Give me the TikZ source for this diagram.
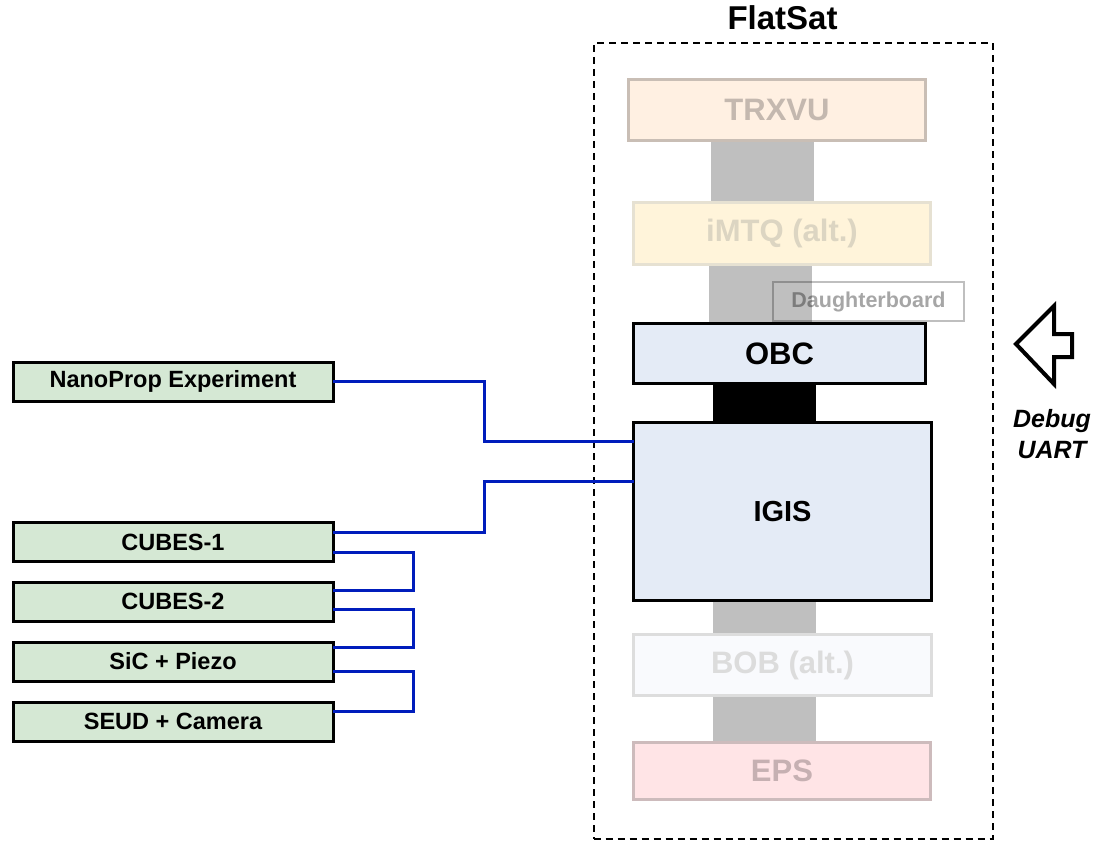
\documentclass[tikz,border=0pt]{standalone}
\usepackage{fontspec}
\setmainfont{Liberation Sans}
\usetikzlibrary{calc}
\definecolor{grn}{HTML}{D5E8D4}
\definecolor{lblue}{HTML}{E4EBF6}
\definecolor{trxfill}{HTML}{FFF0E2}
\definecolor{trxdraw}{HTML}{C9BEB5}
\definecolor{trxtext}{HTML}{C4B8AF}
\definecolor{imtqfill}{HTML}{FFF4DA}
\definecolor{imtqdraw}{HTML}{E6E1D2}
\definecolor{imtqtext}{HTML}{DCD5C2}
\definecolor{bobfill}{HTML}{F9FAFD}
\definecolor{bobdraw}{HTML}{DDDDDD}
\definecolor{bobtext}{HTML}{DCDCDC}
\definecolor{epsfill}{HTML}{FFE4E6}
\definecolor{epsdraw}{HTML}{CDBBBC}
\definecolor{epstext}{HTML}{C6B0B2}
\definecolor{barg}{HTML}{BFBFBF}
\definecolor{wire}{HTML}{001DBC}
\begin{document}
\begin{tikzpicture}[x=1pt,y=-1pt,
  box/.style={draw, line width=3pt, inner sep=0pt, outer sep=0pt},
  greenbox/.style={box, fill=grn, minimum width=320pt, minimum height=39pt,
    font=\bfseries\fontsize{23.5}{28}\selectfont},
  stackbox/.style={box, minimum width=297pt, minimum height=61pt,
    font=\bfseries\fontsize{31}{36}\selectfont},
  mainbox/.style={stackbox, fill=lblue},
  bar/.style={fill=barg},
  wirestyle/.style={draw=wire, line width=3pt},
]
\useasboundingbox (0,0) rectangle (1099,842);

% frame and title
\node[draw, line width=2pt, dash pattern=on 7pt off 5pt, minimum width=399pt,
  minimum height=796pt, inner sep=0pt] (frame) at (793,441) {};
\node[anchor=base, font=\bfseries\fontsize{33}{38}\selectfont, inner sep=0pt] (title) at (782.5,30) {FlatSat};

% stack connectors
\fill[bar] (711,142) rectangle (814,202);
\fill[bar] (709,262) rectangle (812,322);
\fill[black] (713,385) rectangle (816,421);
\fill[bar] (713,602) rectangle (816,633);
\fill[bar] (713,697) rectangle (816,741);

% stack boards
\node[stackbox, fill=trxfill, draw=trxdraw, text=trxtext] (trx) at (777,110) {TRXVU};
\node[stackbox, fill=imtqfill, draw=imtqdraw, text=imtqtext, minimum height=62pt] (imtq) at (782,233.5) {iMTQ (alt.)};
\node[draw=black, draw opacity=0.25, line width=2pt, minimum width=191pt, minimum height=39pt,
  inner sep=0pt, text=black, text opacity=0.35, font=\bfseries\fontsize{21.5}{25}\selectfont] (daughter) at (868.5,301.5) {Daughterboard};
\node[mainbox, minimum width=292pt, minimum height=60pt] (obc) at (779.5,353.5) {OBC};
\node[mainbox, minimum width=298pt, minimum height=178pt, font=\bfseries\fontsize{29}{34}\selectfont] (igis) at (782.5,511.5) {IGIS};
\node[stackbox, fill=bobfill, draw=bobdraw, text=bobtext, minimum width=298pt] (bob) at (782.5,665) {BOB (alt.)};
\node[stackbox, fill=epsfill, draw=epsdraw, text=epstext, minimum height=57pt] (eps) at (782,771) {EPS};

% payloads
\node[greenbox] (nano) at (173,381.5) {NanoProp Experiment};
\node[greenbox] (cubes1) at (173,542) {CUBES-1};
\node[greenbox] (cubes2) at (173,601.5) {CUBES-2};
\node[greenbox] (sic) at (173,661.5) {SiC + Piezo};
\node[greenbox] (seud) at (173,721.5) {SEUD + Camera};

% wires
\draw[wirestyle] (nano.east) -- (484,381.5) |- ([yshift=70pt]igis.west);
\draw[wirestyle] ([yshift=10pt]cubes1.east) -- (484,532) |- ([yshift=30pt]igis.west);
\draw[wirestyle] ([yshift=-10pt]cubes1.east) -- (413,552) |- ([yshift=11pt]cubes2.east);
\draw[wirestyle] ([yshift=-8pt]cubes2.east) -- (413,609.5) |- ([yshift=14pt]sic.east);
\draw[wirestyle] ([yshift=-10pt]sic.east) -- (413,671.5) |- ([yshift=10pt]seud.east);

% debug arrow
\draw[line width=4pt, line join=miter, fill=white] (1016,344) -- (1054,306) -- (1054,334) -- (1072,334)
  -- (1072,357) -- (1054,357) -- (1054,384) -- cycle;
\node[anchor=base, inner sep=0pt, font=\bfseries\itshape\fontsize{25}{30}\selectfont] (dbg) at (1052,427) {Debug};
\node[anchor=base, inner sep=0pt, font=\bfseries\itshape\fontsize{25}{30}\selectfont] (uart) at (1052,458) {UART};
\end{tikzpicture}
\end{document}
